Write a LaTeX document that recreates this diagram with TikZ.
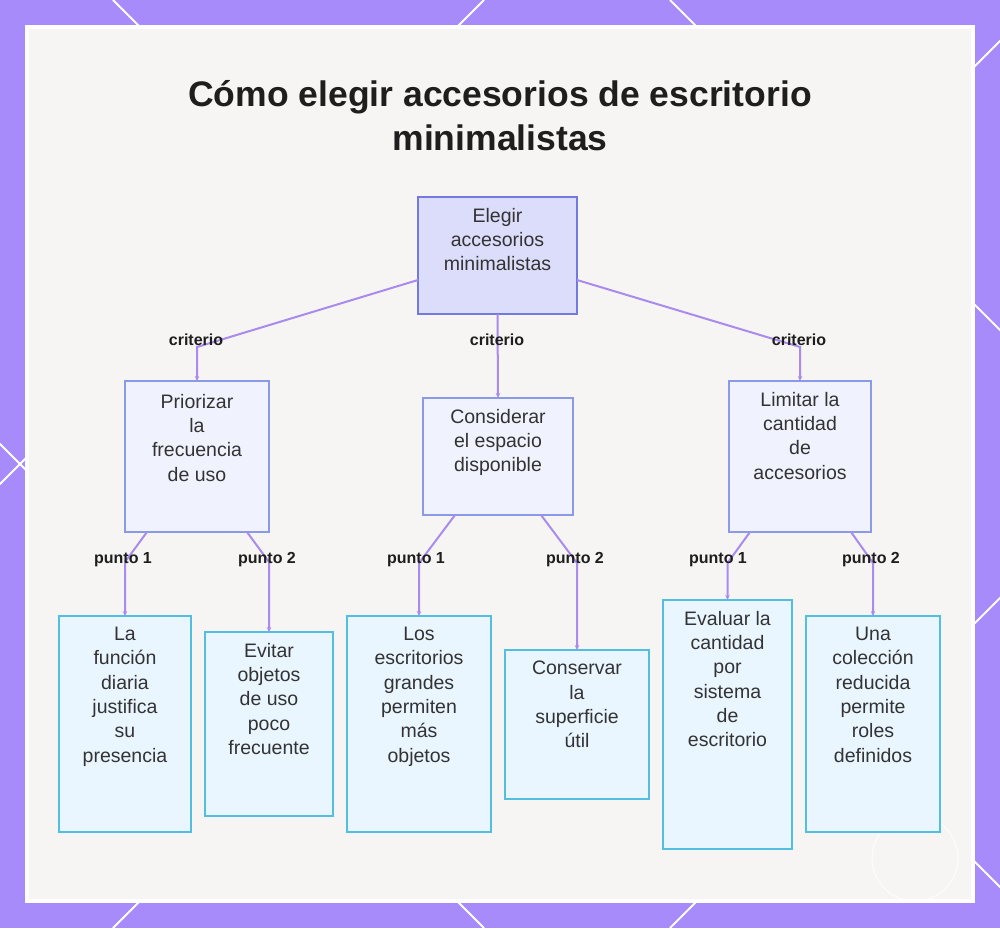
\documentclass[tikz,border=0pt]{standalone}
\usepackage{fontspec}
\setmainfont{Liberation Sans}
\usetikzlibrary{arrows.meta}
\definecolor{framecol}{HTML}{A78BFA}
\definecolor{panelbg}{HTML}{F6F5F3}
\definecolor{rootfill}{HTML}{DCDDFB}
\definecolor{rootdraw}{HTML}{7479DE}
\definecolor{midfill}{HTML}{F0F3FE}
\definecolor{middraw}{HTML}{8A9AE6}
\definecolor{leaffill}{HTML}{EAF6FF}
\definecolor{leafdraw}{HTML}{52BEE0}
\definecolor{conncol}{HTML}{A98BEE}
\definecolor{txtcol}{HTML}{333333}
\definecolor{lblcol}{HTML}{1E1E1E}
\begin{document}
\begin{tikzpicture}[x=1pt,y=-1pt,
  rootbox/.style={draw=rootdraw, fill=rootfill, line width=2pt, inner sep=0pt, outer sep=0pt},
  midbox/.style={draw=middraw, fill=midfill, line width=2pt, inner sep=0pt, outer sep=0pt},
  leafbox/.style={draw=leafdraw, fill=leaffill, line width=2pt, inner sep=0pt, outer sep=0pt},
  boxtext/.style={anchor=north, align=center, inner sep=0pt, text=txtcol, font=\fontsize{19.5}{24.3}\selectfont},
  lbl/.style={anchor=base, inner sep=0pt, text=lblcol, font=\fontsize{16}{19}\selectfont\bfseries},
  conn/.style={draw=conncol, line width=2pt, -{Stealth[length=5pt,width=4.5pt]}},
  titletext/.style={anchor=base, inner sep=0pt, text=lblcol, font=\fontsize{35.5}{44}\selectfont\bfseries},
]
\useasboundingbox (0,0) rectangle (1000,928);
\fill[framecol] (0,0) rectangle (1000,928);
\begin{scope}
\clip (0,0) rectangle (1000,928);
\foreach \c in {-444,113,670} \draw[white, line width=2pt] (\c,0) -- (\c+928,928);
\foreach \c in {484,1041,1598} \draw[white, line width=2pt] (\c,0) -- (\c-928,928);
\end{scope}
\fill[white] (25,25) rectangle (975,903);
\fill[panelbg] (29,29) rectangle (971,899);
\draw[white, line width=1.2pt, opacity=0.7] (915,858) circle (43);

% title
\node[titletext] (title1) at (500,107) {Cómo elegir accesorios de escritorio};
\node[titletext] (title2) at (500,151) {minimalistas};

% boxes
\node[rootbox, minimum width=159, minimum height=117] (root) at (497.5,255.5) {};
\node[midbox, minimum width=144, minimum height=151] (A) at (197,456.5) {};
\node[midbox, minimum width=150, minimum height=117] (B) at (498,456.5) {};
\node[midbox, minimum width=142, minimum height=151] (C) at (800,456.5) {};
\node[leafbox, minimum width=132, minimum height=216] (A1) at (125,724) {};
\node[leafbox, minimum width=128, minimum height=184] (A2) at (269,724) {};
\node[leafbox, minimum width=144, minimum height=216] (B1) at (419,724) {};
\node[leafbox, minimum width=144, minimum height=149] (B2) at (577,724.5) {};
\node[leafbox, minimum width=129, minimum height=249] (C1) at (727.5,724.5) {};
\node[leafbox, minimum width=134, minimum height=216] (C2) at (873,724) {};

% texts
\node[boxtext] (rootT) at ([yshift=-11]root.north) {Elegir\\accesorios\\minimalistas};
\node[boxtext] (AT) at ([yshift=-13]A.north) {Priorizar\\la\\frecuencia\\de uso};
\node[boxtext] (BT) at ([yshift=-11]B.north) {Considerar\\el espacio\\disponible};
\node[boxtext] (CT) at ([yshift=-11]C.north) {Limitar la\\cantidad\\de\\accesorios};
\node[boxtext] (A1T) at ([yshift=-11]A1.north) {La\\función\\diaria\\justifica\\su\\presencia};
\node[boxtext] (A2T) at ([yshift=-11]A2.north) {Evitar\\objetos\\de uso\\poco\\frecuente};
\node[boxtext] (B1T) at ([yshift=-11]B1.north) {Los\\escritorios\\grandes\\permiten\\más\\objetos};
\node[boxtext] (B2T) at ([yshift=-11]B2.north) {Conservar\\la\\superficie\\útil};
\node[boxtext] (C1T) at ([yshift=-11]C1.north) {Evaluar la\\cantidad\\por\\sistema\\de\\escritorio};
\node[boxtext] (C2T) at ([yshift=-11]C2.north) {Una\\colección\\reducida\\permite\\roles\\definidos};

% bends
\coordinate (kA) at (197,347);
\coordinate (kC) at (800,347);
\coordinate (kA1) at (125,562);
\coordinate (kA2) at (269,562);
\coordinate (kB1) at (419,563);
\coordinate (kB2) at (577,563);
\coordinate (kC1) at (727.5,563);
\coordinate (kC2) at (873,563);

% connectors
\draw[conn] ([yshift=-24.5]root.west) -- (kA) -- (A.north);
\draw[conn] (root.south) -- (B.north);
\draw[conn] ([yshift=-24.5]root.east) -- (kC) -- (C.north);
\draw[conn] ([xshift=22]A.south west) -- (kA1) -- (A1.north);
\draw[conn] ([xshift=-22]A.south east) -- (kA2) -- (A2.north);
\draw[conn] ([xshift=32]B.south west) -- (kB1) -- (B1.north);
\draw[conn] ([xshift=-32]B.south east) -- (kB2) -- (B2.north);
\draw[conn] ([xshift=21]C.south west) -- (kC1) -- (C1.north);
\draw[conn] ([xshift=-20]C.south east) -- (kC2) -- (C2.north);

% labels
\node[lbl] (lA) at (196,345) {criterio};
\node[lbl] (lB) at (497,345) {criterio};
\node[lbl] (lC) at (799,345) {criterio};
\node[lbl] (lA1) at (123,563) {punto 1};
\node[lbl] (lA2) at (267,563) {punto 2};
\node[lbl] (lB1) at (416,563) {punto 1};
\node[lbl] (lB2) at (575,563) {punto 2};
\node[lbl] (lC1) at (718,563) {punto 1};
\node[lbl] (lC2) at (871,563) {punto 2};
\end{tikzpicture}
\end{document}
